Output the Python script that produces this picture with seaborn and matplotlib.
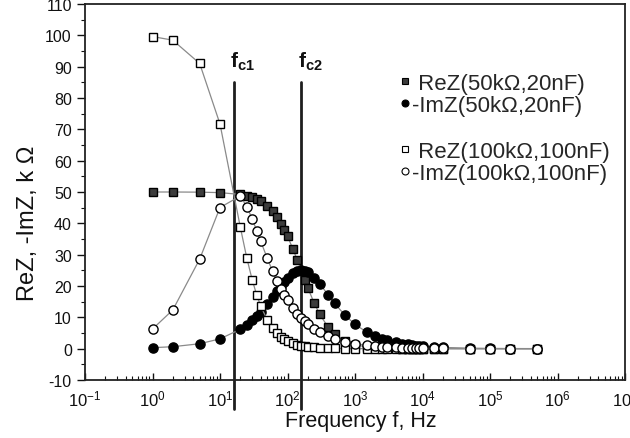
import numpy as np
import matplotlib
matplotlib.use("Agg")
import matplotlib.pyplot as plt
from matplotlib.lines import Line2D
from matplotlib.ticker import FixedLocator, FuncFormatter, LogLocator, NullFormatter, MultipleLocator
import seaborn as sns

# ---- data ----
freq_hz = [1, 2, 5, 10, 20, 25, 30, 35, 40, 50, 60, 70, 80, 90, 100, 120, 140, 160, 180, 200,
           250, 300, 400, 500, 700, 1000, 1500, 2000, 2500, 3000, 4000, 5000, 6000, 7000, 8000,
           9000, 10000, 15000, 20000, 50000, 100000, 200000, 500000]

re_50k = [50.0, 50.0, 49.95, 49.80, 49.22, 48.80, 48.29, 47.70, 47.03, 45.51, 43.78, 41.90,
          39.92, 37.89, 35.85, 31.88, 28.19, 24.87, 21.94, 19.39, 14.42, 10.98, 6.84, 4.60,
          2.46, 1.24, 0.56, 0.32, 0.20, 0.14, 0.08, 0.05, 0.03, 0.03, 0.02, 0.02, 0.01, 0.01,
          0.0, 0.0, 0.0, 0.0, 0.0]

im_50k = [0.31, 0.63, 1.57, 3.13, 6.19, 7.67, 9.10, 10.49, 11.82, 14.30, 16.51, 18.43, 20.07,
          21.43, 22.53, 24.04, 24.80, 25.00, 24.81, 24.36, 22.65, 20.70, 17.18, 14.45, 10.81,
          7.76, 5.25, 3.96, 3.17, 2.65, 1.99, 1.59, 1.33, 1.14, 0.99, 0.88, 0.80, 0.53, 0.40,
          0.16, 0.08, 0.04, 0.02]

re_100k = [99.61, 98.45, 91.02, 71.70, 38.77, 28.84, 21.96, 17.13, 13.67, 9.20, 6.57, 4.92,
           3.81, 3.03, 2.47, 1.73, 1.28, 0.98, 0.78, 0.63, 0.40, 0.28, 0.16, 0.10, 0.05, 0.03,
           0.01, 0.01, 0.0, 0.0, 0.0, 0.0, 0.0, 0.0, 0.0, 0.0, 0.0, 0.0, 0.0, 0.0, 0.0, 0.0, 0.0]

im_100k = [6.26, 12.37, 28.59, 45.05, 48.72, 45.30, 41.40, 37.68, 34.35, 28.90, 24.78, 21.62,
           19.14, 17.15, 15.52, 13.03, 11.22, 9.85, 8.77, 7.91, 6.34, 5.29, 3.97, 3.18, 2.27,
           1.59, 1.06, 0.80, 0.64, 0.53, 0.40, 0.32, 0.27, 0.23, 0.20, 0.18, 0.16, 0.11, 0.08,
           0.03, 0.02, 0.01, 0.0]

series_labels = [" ReZ(50k\u03a9,20nF)", "-ImZ(50k\u03a9,20nF)",
                 " ReZ(100k\u03a9,100nF)", "-ImZ(100k\u03a9,100nF)"]
fc_hz = [15.9, 159.2]
fc_labels = [r"$\mathbf{f}_{\mathbf{c1}}$", r"$\mathbf{f}_{\mathbf{c2}}$"]
x_tick_exponents = [-1, 0, 1, 2, 3, 4, 5, 6, 7]
y_ticks = [-10, 0, 10, 20, 30, 40, 50, 60, 70, 80, 90, 100, 110]

# ---- style ----
sns.set_theme(style="ticks")
plt.rcParams["font.family"] = ["Liberation Sans", "DejaVu Sans"]
plt.rcParams["mathtext.fontset"] = "custom"
plt.rcParams["mathtext.rm"] = "Liberation Sans"
plt.rcParams["mathtext.it"] = "Liberation Sans:italic"
plt.rcParams["mathtext.bf"] = "Liberation Sans:bold"
plt.rcParams["axes.unicode_minus"] = False

fig = plt.figure(figsize=(6.3, 4.39), dpi=100)
ax = fig.add_axes([85 / 630, 58 / 439, 540 / 630, 376 / 439])
ax.set_xscale("log")

styles = [
    (re_50k, "s", "#3c3c3c", 5.8),
    (im_50k, "o", "black", 6.6),
    (re_100k, "s", "white", 5.8),
    (im_100k, "o", "white", 6.6),
]
for vals, mk, face, ms in styles:
    sns.lineplot(x=freq_hz, y=vals, ax=ax, color="#8a8a8a", linewidth=0.9,
                 marker=mk, markersize=ms, markerfacecolor=face,
                 markeredgecolor="black", markeredgewidth=1.0,
                 estimator=None, sort=False, errorbar=None)

# critical frequency lines
for fc, lab in zip(fc_hz, fc_labels):
    ax.axvline(fc, ymin=-0.077, ymax=0.793, color="#1e1e1e", lw=2.0,
               clip_on=False, zorder=1.5)
    ax.annotate(lab, xy=(fc, 91.8), xytext=(-2.5, 0), textcoords="offset points",
                ha="left", va="center", fontsize=15, color="#111111")

ax.set_xlim(1e-1, 1e7)
ax.set_ylim(-10, 110)

ax.xaxis.set_major_locator(FixedLocator([10.0 ** e for e in x_tick_exponents]))
ax.xaxis.set_major_formatter(FuncFormatter(
    lambda v, p: r"$10^{%d}$" % int(round(np.log10(v)))))
ax.xaxis.set_minor_locator(LogLocator(base=10, subs=np.arange(2, 10), numticks=100))
ax.xaxis.set_minor_formatter(NullFormatter())
ax.yaxis.set_major_locator(FixedLocator(y_ticks))
ax.yaxis.set_minor_locator(MultipleLocator(5))

ax.tick_params(axis="x", which="major", direction="in", length=5, width=1.0,
               labelsize=12, pad=6, top=False, colors="#111111")
ax.tick_params(axis="x", which="minor", direction="in", length=3, width=0.8, top=False,
               colors="#111111")
ax.tick_params(axis="y", which="major", direction="out", length=5.5, width=1.0,
               labelsize=11.5, pad=4, right=False, colors="#111111")
ax.tick_params(axis="y", which="minor", direction="out", length=3, width=0.8, right=False,
               colors="#111111")
for s in ax.spines.values():
    s.set_visible(True)
    s.set_linewidth(1.3)
    s.set_color("#222222")

ax.set_xlabel("Frequency f, Hz", fontsize=15.5, color="#111111")
ax.set_ylabel("ReZ, -ImZ, k \u03a9", fontsize=17, color="#111111")
ax.xaxis.set_label_coords(0.511, -0.08)
ax.yaxis.set_label_coords(-0.085, 0.42)

# legend (two groups)
h_50 = [Line2D([], [], ls="none", marker="s", markersize=5, markerfacecolor="#3c3c3c",
               markeredgecolor="black", markeredgewidth=0.8),
        Line2D([], [], ls="none", marker="o", markersize=5, markerfacecolor="black",
               markeredgecolor="black", markeredgewidth=0.8)]
h_100 = [Line2D([], [], ls="none", marker="s", markersize=5, markerfacecolor="white",
                markeredgecolor="black", markeredgewidth=0.8),
         Line2D([], [], ls="none", marker="o", markersize=5, markerfacecolor="white",
                markeredgecolor="black", markeredgewidth=0.8)]
common = dict(loc="upper left", bbox_transform=fig.transFigure, frameon=False, fontsize=16,
              handlelength=0.6, handletextpad=0.05, labelspacing=0.05, borderpad=0,
              borderaxespad=0)
leg1 = ax.legend(h_50, series_labels[:2], bbox_to_anchor=(398 / 630, 1 - 74 / 439), **common)
ax.add_artist(leg1)
ax.legend(h_100, series_labels[2:], bbox_to_anchor=(398 / 630, 1 - 142 / 439), **common)

fig.savefig("out.png", dpi=100)
